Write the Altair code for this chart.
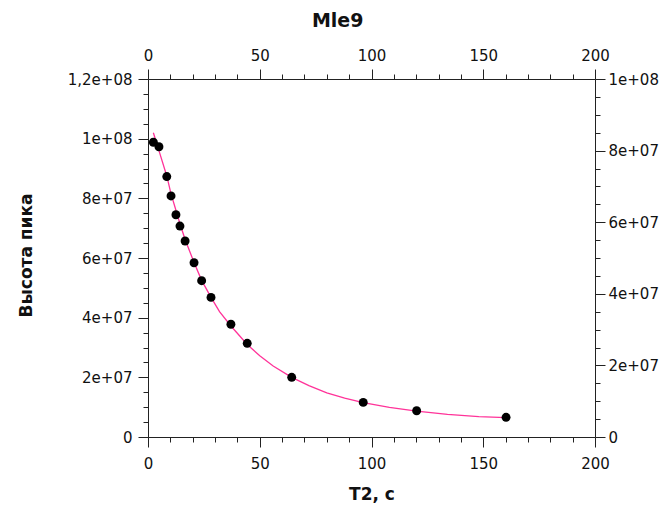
import altair as alt
import pandas as pd

# measured points
t2 = [2.4, 4.9, 8.4, 10.3, 12.5, 14.3, 16.6, 20.6, 24.0, 28.2, 37.1, 44.4, 64.3, 96.3, 120.2, 160.2]
height = [9.88e7, 9.73e7, 8.73e7, 8.08e7, 7.45e7, 7.07e7, 6.57e7, 5.84e7, 5.24e7, 4.68e7,
          3.78e7, 3.14e7, 2.0e7, 1.16e7, 8.8e6, 6.6e6]

# fitted curve
curve_t = [2.4, 4.9, 8.4, 10.3, 12.5, 14.3, 16.6, 20.6, 24.0, 28.2, 32, 37.1, 44.4, 50, 56,
           64.3, 72, 80, 88, 96.3, 108, 120.2, 134, 148, 160.2]
curve_h = [1.02e8, 9.6e7, 8.75e7, 8.15e7, 7.6e7, 7.15e7, 6.62e7, 5.85e7, 5.25e7, 4.68e7,
           4.2e7, 3.72e7, 3.1e7, 2.72e7, 2.38e7, 2.0e7, 1.72e7, 1.48e7, 1.3e7, 1.15e7,
           9.9e6, 8.7e6, 7.6e6, 6.8e6, 6.5e6]

x_ticks = list(range(0, 201, 10))
x_major = [0, 50, 100, 150, 200]
yl_ticks = [i * 5e6 for i in range(0, 25)]
yl_major = [0, 2e7, 4e7, 6e7, 8e7, 1e8, 1.2e8]
yl_labels = ["0", "2e+07", "4e+07", "6e+07", "8e+07", "1e+08", "1,2e+08"]
yr_ticks = [i * 5e6 for i in range(0, 21)]
yr_major = [0, 2e7, 4e7, 6e7, 8e7, 1e8]
yr_labels = ["0", "2e+07", "4e+07", "6e+07", "8e+07", "1e+08"]

pts = pd.DataFrame({"t": t2, "h": height})
cur = pd.DataFrame({"t": curve_t, "h": curve_h})

FONT = "DejaVu Sans"
AX = "#222222"


def label_expr(vals, labels):
    parts = []
    for v, l in zip(vals, labels):
        parts.append(f"abs(datum.value - {v}) < 1 ? '{l}'")
    return " : ".join(parts) + " : ''"


def tick_size(major_test):
    return {"condition": {"test": major_test, "value": 10}, "value": 5}


common = dict(domainColor=AX, tickColor=AX, labelColor="#111111", labelFont=FONT,
              labelFontSize=15, grid=False, domainWidth=1, tickWidth=1,
              titleFont=FONT, titleFontWeight="bold", titleColor="#111111")

xs = alt.Scale(domain=[0, 200], nice=False, zero=False)
yls = alt.Scale(domain=[0, 1.2e8], nice=False)
yrs = alt.Scale(domain=[0, 1e8], nice=False)

x_test = "datum.value % 50 === 0"
yl_test = "datum.value % 20000000 === 0"

line = alt.Chart(cur).mark_line(color="#ff3399", strokeWidth=1.3).encode(
    x=alt.X("t:Q", scale=xs, axis=alt.Axis(
        orient="bottom", values=x_ticks, labelExpr=label_expr(x_major, [str(v) for v in x_major]),
        tickSize=tick_size(x_test), labelPadding=9, title="T2, c", titleFontSize=17,
        titleBaseline="middle", titleY=57, labelFlush=False, labelOverlap=False, **common)),
    y=alt.Y("h:Q", scale=yls, axis=alt.Axis(
        orient="left", values=yl_ticks, labelExpr=label_expr(yl_major, yl_labels),
        tickSize=tick_size(yl_test), labelPadding=6, title="Высота пика", titleFontSize=17,
        titleAngle=270, titleBaseline="middle", titleAlign="center", titleX=-122, titleY=176,
        labelFlush=False, labelOverlap=False, **common)),
)

points = alt.Chart(pts).mark_circle(color="black", size=80, opacity=1).encode(
    x=alt.X("t:Q", scale=xs, axis=alt.Axis(
        orient="top", values=x_ticks, labelExpr=label_expr(x_major, [str(v) for v in x_major]),
        tickSize=tick_size(x_test), labelPadding=6, title=None, labelFlush=False,
        labelOverlap=False, **common)),
    y=alt.Y("h:Q", scale=yls, axis=None),
)

hidden = alt.Chart(pts).mark_point(opacity=0).encode(
    x=alt.X("t:Q", scale=xs, axis=None),
    y=alt.Y("h:Q", scale=yrs, axis=alt.Axis(
        orient="right", values=yr_ticks, labelExpr=label_expr(yr_major, yr_labels),
        tickSize=tick_size(yl_test), labelPadding=3, title=None, labelFlush=False,
        labelOverlap=False, **common)),
)

chart = alt.layer(line, points, hidden).resolve_scale(
    x="independent", y="independent"
).resolve_axis(x="independent", y="independent").properties(
    width=447, height=358,
    autosize=alt.AutoSizeParams(type="none"),
    padding={"left": 140, "top": 71, "right": 66, "bottom": 84},
    title=alt.TitleParams("Mle9", font=FONT, fontSize=19, fontWeight="bold", color="#111111",
                          anchor="middle", frame="bounds", offset=17),
).configure_view(stroke=None).configure(background="white")

chart.save("out.html", embed_options={"renderer": "svg", "actions": False})
